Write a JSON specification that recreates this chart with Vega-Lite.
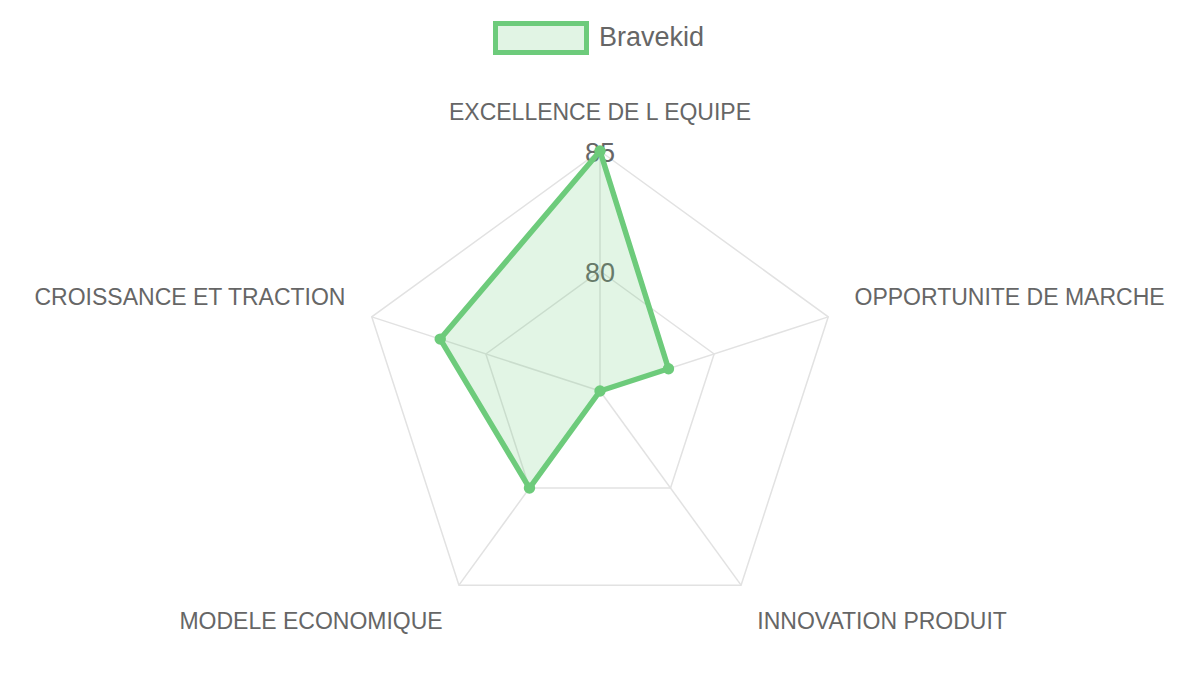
{
  "$schema": "https://vega.github.io/schema/vega-lite/v6.json",
  "width": 1200,
  "height": 675,
  "padding": 0,
  "autosize": {"type": "none"},
  "background": "white",
  "config": {
    "view": {"stroke": null},
    "text": {"font": "Liberation Sans", "color": "#666666"},
    "legend": {"labelFont": "Liberation Sans", "labelFontSize": 27, "labelColor": "#666666"}
  },
  "datasets": {
    "scores": [
      {"axe": "EXCELLENCE DE L EQUIPE", "idx": 0, "score": 85, "serie": "Bravekid"},
      {"axe": "OPPORTUNITE DE MARCHE", "idx": 1, "score": 78, "serie": "Bravekid"},
      {"axe": "INNOVATION PRODUIT", "idx": 2, "score": 75, "serie": "Bravekid"},
      {"axe": "MODELE ECONOMIQUE", "idx": 3, "score": 80, "serie": "Bravekid"},
      {"axe": "CROISSANCE ET TRACTION", "idx": 4, "score": 82, "serie": "Bravekid"}
    ],
    "ticks": [{"tick": 80}, {"tick": 85}]
  },
  "layer": [
    {
      "data": {"name": "scores"},
      "transform": [
        {"calculate": "datum.idx * 2 * PI / 5", "as": "angle"},
        {"calculate": "10 * sin(datum.angle)", "as": "gx"},
        {"calculate": "10 * cos(datum.angle)", "as": "gy"},
        {"calculate": "5 * sin(datum.angle)", "as": "hx"},
        {"calculate": "5 * cos(datum.angle)", "as": "hy"}
      ],
      "layer": [
        {
          "mark": {"type": "line", "interpolate": "linear-closed", "stroke": "#e2e2e2", "strokeWidth": 1.5},
          "encoding": {
            "x": {"field": "gx", "type": "quantitative", "scale": {"domain": [-25, 25]}, "axis": null},
            "y": {"field": "gy", "type": "quantitative", "scale": {"domain": [-11.833, 16.292]}, "axis": null},
            "order": {"field": "idx", "type": "quantitative"}
          }
        },
        {
          "mark": {"type": "line", "interpolate": "linear-closed", "stroke": "#e2e2e2", "strokeWidth": 1.5},
          "encoding": {
            "x": {"field": "hx", "type": "quantitative", "scale": {"domain": [-25, 25]}, "axis": null},
            "y": {"field": "hy", "type": "quantitative", "scale": {"domain": [-11.833, 16.292]}, "axis": null},
            "order": {"field": "idx", "type": "quantitative"}
          }
        },
        {
          "mark": {"type": "rule", "stroke": "#e2e2e2", "strokeWidth": 1.5},
          "encoding": {
            "x": {"field": "gx", "type": "quantitative", "scale": {"domain": [-25, 25]}, "axis": null},
            "y": {"field": "gy", "type": "quantitative", "scale": {"domain": [-11.833, 16.292]}, "axis": null},
            "x2": {"datum": 0},
            "y2": {"datum": 0}
          }
        }
      ]
    },
    {
      "data": {"name": "ticks"},
      "transform": [{"calculate": "datum.tick - 75", "as": "ty"}],
      "mark": {"type": "text", "fontSize": 27, "align": "center", "baseline": "middle", "dy": 3},
      "encoding": {
        "x": {"datum": 0, "type": "quantitative", "scale": {"domain": [-25, 25]}, "axis": null},
        "y": {"field": "ty", "type": "quantitative", "scale": {"domain": [-11.833, 16.292]}, "axis": null},
        "text": {"field": "tick", "type": "quantitative"}
      }
    },
    {
      "data": {"name": "scores"},
      "transform": [
        {"calculate": "datum.idx * 2 * PI / 5", "as": "angle"},
        {"calculate": "(datum.score - 75) * sin(datum.angle)", "as": "px"},
        {"calculate": "(datum.score - 75) * cos(datum.angle)", "as": "py"},
        {"calculate": "11.15 * sin(datum.angle)", "as": "lx"},
        {"calculate": "11.15 * cos(datum.angle)", "as": "ly"}
      ],
      "layer": [
        {
          "mark": {"type": "line", "interpolate": "linear-closed", "stroke": null, "strokeWidth": 0, "fill": "#6dcb7b", "fillOpacity": 0.2},
          "encoding": {
            "x": {"field": "px", "type": "quantitative", "scale": {"domain": [-25, 25]}, "axis": null},
            "y": {"field": "py", "type": "quantitative", "scale": {"domain": [-11.833, 16.292]}, "axis": null},
            "order": {"field": "idx", "type": "quantitative"}
          }
        },
        {
          "mark": {"type": "line", "interpolate": "linear-closed", "strokeWidth": 5.5, "strokeJoin": "round"},
          "encoding": {
            "x": {"field": "px", "type": "quantitative", "scale": {"domain": [-25, 25]}, "axis": null},
            "y": {"field": "py", "type": "quantitative", "scale": {"domain": [-11.833, 16.292]}, "axis": null},
            "order": {"field": "idx", "type": "quantitative"},
            "color": {
              "field": "serie",
              "type": "nominal",
              "scale": {"range": ["#6dcb7b"]},
              "legend": {
                "title": null,
                "orient": "none",
                "legendX": 493,
                "legendY": -10,
                "symbolType": "M-1,-0.32L1,-0.32L1,0.32L-1,0.32Z",
                "symbolSize": 8281,
                "symbolStrokeWidth": 5,
                "symbolFillColor": "#e1f4e4",
                "labelOffset": 10
              }
            }
          }
        },
        {
          "mark": {"type": "circle", "size": 130, "color": "#6dcb7b", "opacity": 1},
          "encoding": {
            "x": {"field": "px", "type": "quantitative", "scale": {"domain": [-25, 25]}, "axis": null},
            "y": {"field": "py", "type": "quantitative", "scale": {"domain": [-11.833, 16.292]}, "axis": null}
          }
        },
        {
          "transform": [{"filter": "datum.idx == 0"}],
          "mark": {"type": "text", "fontSize": 23, "align": "center", "baseline": "alphabetic", "dy": -3},
          "encoding": {
            "x": {"field": "lx", "type": "quantitative", "scale": {"domain": [-25, 25]}, "axis": null},
            "y": {"field": "ly", "type": "quantitative", "scale": {"domain": [-11.833, 16.292]}, "axis": null},
            "text": {"field": "axe", "type": "nominal"}
          }
        },
        {
          "transform": [{"filter": "datum.idx == 1"}],
          "mark": {"type": "text", "fontSize": 23, "align": "left", "baseline": "alphabetic", "dy": -3},
          "encoding": {
            "x": {"field": "lx", "type": "quantitative", "scale": {"domain": [-25, 25]}, "axis": null},
            "y": {"field": "ly", "type": "quantitative", "scale": {"domain": [-11.833, 16.292]}, "axis": null},
            "text": {"field": "axe", "type": "nominal"}
          }
        },
        {
          "transform": [{"filter": "datum.idx == 2"}],
          "mark": {"type": "text", "fontSize": 23, "align": "left", "baseline": "alphabetic", "dy": 21},
          "encoding": {
            "x": {"field": "lx", "type": "quantitative", "scale": {"domain": [-25, 25]}, "axis": null},
            "y": {"field": "ly", "type": "quantitative", "scale": {"domain": [-11.833, 16.292]}, "axis": null},
            "text": {"field": "axe", "type": "nominal"}
          }
        },
        {
          "transform": [{"filter": "datum.idx == 3"}],
          "mark": {"type": "text", "fontSize": 23, "align": "right", "baseline": "alphabetic", "dy": 21},
          "encoding": {
            "x": {"field": "lx", "type": "quantitative", "scale": {"domain": [-25, 25]}, "axis": null},
            "y": {"field": "ly", "type": "quantitative", "scale": {"domain": [-11.833, 16.292]}, "axis": null},
            "text": {"field": "axe", "type": "nominal"}
          }
        },
        {
          "transform": [{"filter": "datum.idx == 4"}],
          "mark": {"type": "text", "fontSize": 23, "align": "right", "baseline": "alphabetic", "dy": -3},
          "encoding": {
            "x": {"field": "lx", "type": "quantitative", "scale": {"domain": [-25, 25]}, "axis": null},
            "y": {"field": "ly", "type": "quantitative", "scale": {"domain": [-11.833, 16.292]}, "axis": null},
            "text": {"field": "axe", "type": "nominal"}
          }
        }
      ]
    }
  ]
}
